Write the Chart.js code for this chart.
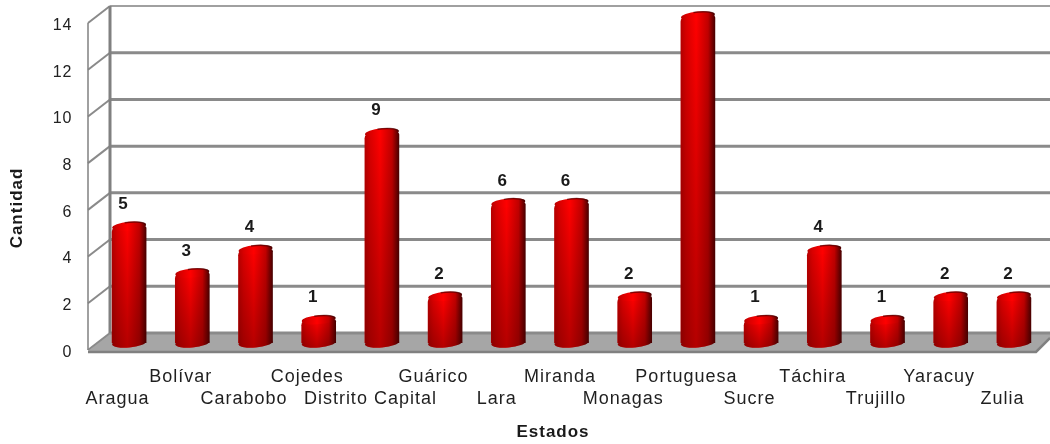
<!DOCTYPE html>
<html><head><meta charset="utf-8">
<style>html,body{margin:0;padding:0;background:#fff}#w{width:1050px;height:444px}</style>
<script src="https://cdn.jsdelivr.net/npm/chart.js@4"></script>
</head><body><div id="w"><canvas id="c" width="1050" height="444"></canvas></div>
<script>
const categories = ["Aragua","Bolívar","Carabobo","Cojedes","Distrito Capital","Guárico","Lara","Miranda","Monagas","Portuguesa","Sucre","Táchira","Trujillo","Yaracuy","Zulia"];
const cantidad = [5,3,4,1,9,2,6,6,2,14,1,4,1,2,2];
const yTicks = [0,2,4,6,8,10,12,14];
const xTitle = "Estados";
const yTitle = "Cantidad";

const FONT = '"Liberation Sans", Arial, sans-serif';
const RY = 4.5, TILT = -0.09, BACK = -10, FRONT = 7, WALLX = 110, FRONTX = 88;

function hGrad(ctx, x, w){
  const g = ctx.createLinearGradient(x - w/2, 0, x + w/2, 0);
  g.addColorStop(0, '#b80000');
  g.addColorStop(0.15,'#d80000');
  g.addColorStop(0.45,'#ff0000');
  g.addColorStop(0.8,'#c00000');
  g.addColorStop(1, '#4a0000');
  return g;
}
function zeroPad(s){ s.paddingLeft=0; s.paddingRight=0; s.paddingTop=0; s.paddingBottom=0; }
const threeD = {
  id:'threeD',
  beforeDraw(chart){ chart.ctx.letterSpacing = '1px'; },
  beforeDatasetsDraw(chart){
    const c = chart.ctx, ys = chart.scales.y;
    const R = 1050, base = ys.getPixelForValue(0);
    c.save();
    // floor
    c.fillStyle='#a6a6a6';
    c.beginPath();
    c.moveTo(FRONTX, base+FRONT+1); c.lineTo(WALLX, base+BACK);
    c.lineTo(R, base+BACK); c.lineTo(R, base+BACK+5); c.lineTo(1036, base+FRONT+1);
    c.closePath(); c.fill();
    c.strokeStyle='#808080'; c.lineWidth=2.5;
    c.beginPath(); c.moveTo(FRONTX, base+FRONT+2); c.lineTo(1036, base+FRONT+2); c.lineTo(R, base+BACK+5); c.stroke();
    // back wall grid
    yTicks.forEach(v=>{
      const y = ys.getPixelForValue(v);
      c.strokeStyle = v===14 ? '#a0a0a0' : '#8a8a8a'; c.lineWidth = v===14 ? 2 : 3;
      c.beginPath(); c.moveTo(WALLX, y+BACK); c.lineTo(R, y+BACK); c.stroke();
      c.strokeStyle='#8a8a8a'; c.lineWidth=2;
      c.beginPath(); c.moveTo(FRONTX, y+FRONT); c.lineTo(WALLX, y+BACK); c.stroke();
    });
    const t = ys.getPixelForValue(14);
    c.strokeStyle='#808080'; c.lineWidth=3;
    c.beginPath(); c.moveTo(WALLX, t+BACK); c.lineTo(WALLX, base+BACK); c.stroke();
    c.lineWidth=1.5;
    c.beginPath(); c.moveTo(FRONTX, t+FRONT); c.lineTo(FRONTX, base+FRONT); c.stroke();
    // cylinder bottoms
    chart.getDatasetMeta(0).data.forEach(b=>{
      c.fillStyle = hGrad(c, b.x, b.width);
      c.beginPath(); c.ellipse(b.x, b.base, b.width/2, RY, TILT, 0, Math.PI*2); c.fill();
    });
    c.restore();
  },
  afterDatasetsDraw(chart){
    const c = chart.ctx;
    c.save();
    chart.getDatasetMeta(0).data.forEach((b,i)=>{
      const w=b.width, l=b.x-w/2, rx=w/2;
      // vertical shading toward the base
      const sh = c.createLinearGradient(0,b.y,0,b.base+RY);
      sh.addColorStop(0,'rgba(60,0,0,0)');
      sh.addColorStop(1,'rgba(70,0,0,0.4)');
      c.fillStyle=sh;
      c.beginPath(); c.moveTo(l,b.y+2); c.lineTo(l,b.base+1.5);
      c.ellipse(b.x,b.base,rx,RY,TILT,Math.PI,0,true);
      c.lineTo(l+w,b.y-1); c.closePath(); c.fill();
      // top cap
      c.fillStyle=hGrad(c,b.x,w);
      c.beginPath(); c.ellipse(b.x,b.y,rx,RY,TILT,0,Math.PI*2); c.fill();
      c.strokeStyle='rgba(70,0,0,0.65)'; c.lineWidth=1.5;
      c.beginPath(); c.ellipse(b.x,b.y,rx-0.5,RY-0.5,TILT,Math.PI*1.42,Math.PI*1.98); c.stroke();
      // value label
      c.fillStyle='#1a1a1a';
      c.font='bold 17px '+FONT;
      c.textAlign='center'; c.textBaseline='middle';
      c.fillText(String(cantidad[i]), b.x-5.5, b.y-22);
    });
    // axis titles sit off-centre from the plot in the reference
    c.font='bold 17px '+FONT; c.fillStyle='#1a1a1a'; c.textAlign='center'; c.textBaseline='middle';
    c.fillText(xTitle, 553, 432);
    c.translate(17,208); c.rotate(-Math.PI/2);
    c.fillText(yTitle, 0, 0);
    c.restore();
  }
};
new Chart(document.getElementById('c'),{
  type:'bar',
  data:{labels:categories,datasets:[{label:yTitle,data:cantidad,barThickness:34,
    borderWidth:0,borderRadius:{topLeft:6,topRight:2,bottomLeft:0,bottomRight:0},
    backgroundColor(ctx){
      const ch=ctx.chart, xs=ch.scales.x;
      const px = xs ? xs.getPixelForValue(ctx.dataIndex) : NaN;
      if(!Number.isFinite(px)) return '#e00000';
      return hGrad(ch.ctx, px, 34);
    }}]},
  options:{
    responsive:false,animation:false,
    layout:{padding:{left:0,top:16,right:4.5,bottom:0}},
    plugins:{legend:{display:false},title:{display:false},tooltip:{enabled:false}},
    scales:{
      x:{
        grid:{display:false},border:{display:false},
        afterFit(s){s.height=101; zeroPad(s);},
        ticks:{autoSkip:false,maxRotation:0,minRotation:0,padding:15,labelOffset:-11.5,color:'#1f1f1f',z:1,
          font:{family:FONT,size:18,lineHeight:1.24},
          callback(v,i){ const s=categories[i]; return i%2===0 ? ['',s] : [s,'']; }}
      },
      y:{
        min:0,max:14,
        grid:{display:false,drawTicks:false},border:{display:false},
        afterFit(s){s.width=97.5; zeroPad(s);},
        ticks:{stepSize:2,padding:25,labelOffset:9.5,color:'#222',
          font:{family:FONT,size:16}}
      }
    }
  },
  plugins:[threeD]
});
</script></body></html>
